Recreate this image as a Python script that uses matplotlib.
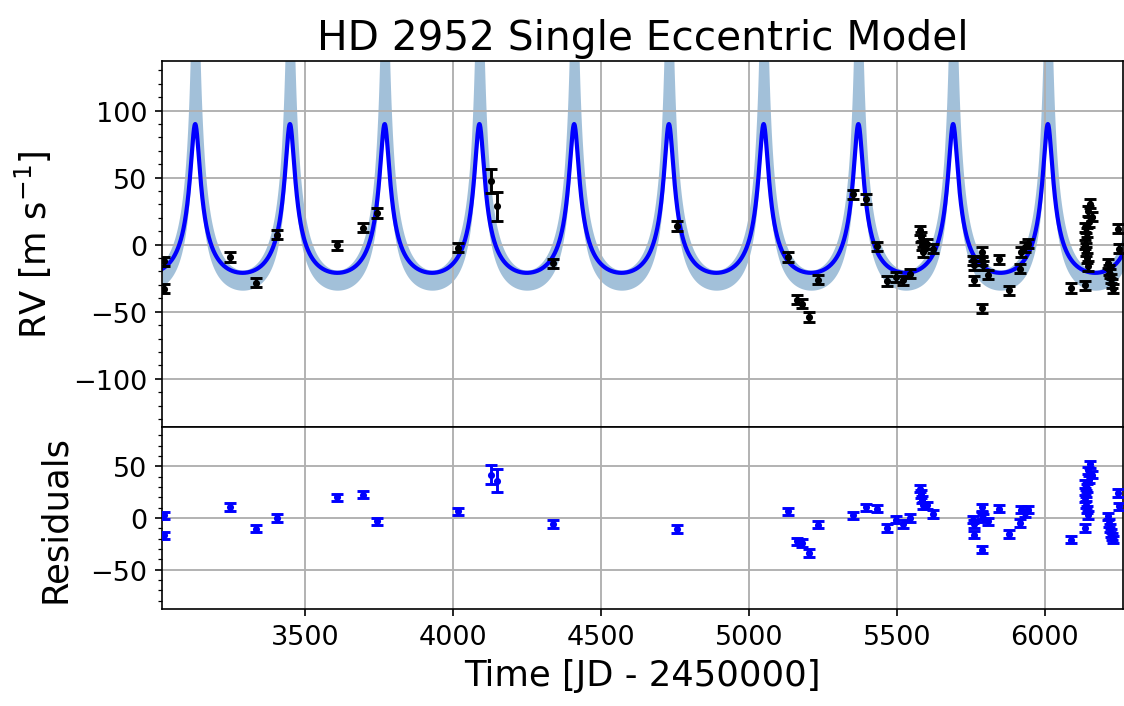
import numpy as np
import matplotlib
matplotlib.use("Agg")
import matplotlib.pyplot as plt
from matplotlib.ticker import MultipleLocator

t_obs = [3022, 3024, 3246, 3334, 3406, 3607, 3694, 3743, 4018, 4128,
         4150, 4339, 4756, 5133, 5162, 5181, 5204, 5233, 5351, 5397,
         5435, 5467, 5497, 5522, 5545, 5580, 5583, 5585, 5588, 5603,
         5622, 5759, 5760, 5761, 5787, 5788, 5793, 5789, 5810, 5846,
         5880, 5917, 5921, 5935, 5943, 6089, 6136, 6154, 6146, 6160,
         6151, 6138, 6145, 6141, 6137, 6139, 6142, 6147, 6213, 6218,
         6222, 6226, 6229, 6232, 6247, 6250]
rv_obs = [-12.4, -32.7, -9.2, -28.3, 7.4, -0.5, 12.6, 23.6, -2.2, 47.8,
          28.5, -13.9, 13.9, -9.2, -40.9, -43.9, -53.8, -26.0, 37.6, 34.2,
          -1.2, -27.0, -24.0, -26.5, -21.6, 10.6, 5.7, -0.5, -5.4, 0.5,
          -3.0, -11.7, -15.4, -26.5, -5.4, -11.7, -15.4, -47.6, -22.3, -10.9,
          -34.0, -17.8, -5.4, -1.7, 0.7, -32.2, -30.3, 30.5, 25.0, 21.0,
          17.0, 13.0, 9.0, 5.0, 0.0, -5.0, -10.0, -16.0, -14.0, -19.0,
          -21.6, -25.3, -29.0, -32.7, 11.9, -3.0]
rv_err = [3.5] * 9 + [9.0, 11.0] + [3.5] * 55
resid = [2.6, -16.8, 10.6, -10.3, 0.0, 20.0, 22.6, -3.2, 6.5, 42.0,
         36.0, -5.8, -10.6, 6.5, -22.6, -24.2, -33.9, -6.5, 2.6, 10.3,
         9.0, -9.7, -1.6, -5.8, 0.0, 28.4, 23.2, 17.7, 12.3, 12.3,
         3.9, -1.6, -5.8, -16.1, 10.3, 2.6, 0.0, -30.7, -3.2, 9.0,
         -15.5, -4.8, 8.1, 4.8, 8.1, -21.0, -9.7, 52.0, 46.0, 42.0,
         37.0, 33.0, 29.0, 24.0, 19.0, 13.0, 8.0, 3.0, 1.6, -4.8,
         -9.7, -14.5, -17.7, -21.0, 24.2, 11.3]

# single eccentric keplerian (best fit) and the envelope of posterior draws
period = 320.3
t_peri = 3128.3
best = dict(e=0.58, K=55.5, gamma=2.3)
envelope = [dict(e=0.70, K=173.0, gamma=33.0),
            dict(e=0.58, K=57.0, gamma=-10.0)]


def kepler_rv(t, e, K, gamma, w=0.0):
    M = np.mod(2 * np.pi * (t - t_peri) / period, 2 * np.pi)
    E = M + e * np.sin(M)
    for _ in range(60):
        E = E - (E - e * np.sin(E) - M) / (1 - e * np.cos(E))
    nu = 2 * np.arctan2(np.sqrt(1 + e) * np.sin(E / 2), np.sqrt(1 - e) * np.cos(E / 2))
    return K * (np.cos(nu + w) + e * np.cos(w)) + gamma


tt = np.linspace(3016, 6265, 6000)
v_best = kepler_rv(tt, **best)
v_all = np.array([v_best] + [kepler_rv(tt, **p) for p in envelope])

fig = plt.figure(figsize=(1124 / 150, 707 / 150), dpi=150)
ax1 = fig.add_axes([0.1441, 0.3946, 0.8550, 0.5177])
ax2 = fig.add_axes([0.1441, 0.1372, 0.8550, 0.2574], sharex=ax1)

ebar = dict(fmt="o", ms=2.4, capsize=2.7, elinewidth=1.4, capthick=1.4, zorder=3)

ax1.fill_between(tt, v_all.min(axis=0), v_all.max(axis=0), color="steelblue",
                 alpha=0.5, lw=0, zorder=1)
ax1.plot(tt, v_best, color="blue", lw=2.0, zorder=2)
ax1.errorbar(t_obs, rv_obs, yerr=rv_err, color="black", **ebar)
ax1.set_ylim(-136, 137)
ax1.set_ylabel(r"RV [m s$^{-1}$]", fontsize=17, labelpad=9)
ax1.set_title("HD 2952 Single Eccentric Model", fontsize=19.5)
ax1.yaxis.set_minor_locator(MultipleLocator(10))
ax1.grid(True, color="#b0b0b0", lw=0.9)
ax1.tick_params(labelbottom=False, labelsize=13)

ax2.errorbar(t_obs, resid, yerr=rv_err, color="blue", **ebar)
ax2.set_ylim(-88, 88)
ax2.set_yticks([-50, 0, 50])
ax2.yaxis.set_minor_locator(MultipleLocator(10))
ax2.set_xlim(3016, 6265)
ax2.set_xticks([3500, 4000, 4500, 5000, 5500, 6000])
ax2.set_ylabel("Residuals", fontsize=17, labelpad=9)
ax2.set_xlabel("Time [JD - 2450000]", fontsize=17)
ax2.grid(True, color="#b0b0b0", lw=0.9)
ax2.tick_params(labelsize=13)

fig.savefig("out.png", dpi=150)
